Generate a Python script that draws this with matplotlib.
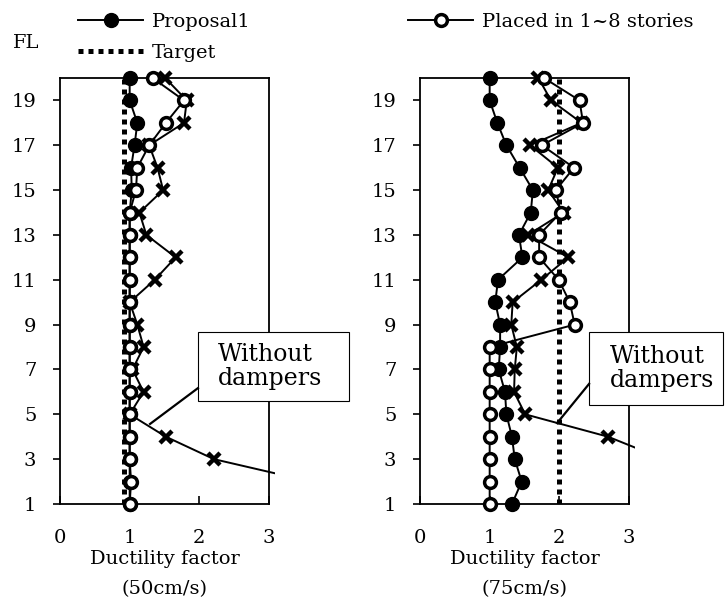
import matplotlib
matplotlib.use("Agg")
import matplotlib.pyplot as plt
from matplotlib.patches import Rectangle
from matplotlib.lines import Line2D
from matplotlib.transforms import Bbox, TransformedBbox

plt.rcParams["font.family"] = "DejaVu Serif"

floors = list(range(1, 21))

# ductility factor per floor (FL1 .. FL20), input 50 cm/s
proposal_50 = [1.0, 1.0, 1.0, 1.0, 1.0, 1.0, 1.0, 1.0, 1.0, 1.0,
               1.0, 1.0, 1.0, 1.0, 1.03, 1.02, 1.07, 1.11, 1.0, 1.0]
placed_50 = [1.0, 1.02, 1.0, 1.0, 1.0, 1.0, 1.0, 1.0, 1.0, 1.0,
             1.0, 1.0, 1.0, 1.0, 1.09, 1.11, 1.28, 1.52, 1.78, 1.33]
no_damper_50 = [4.2, 3.6, 2.21, 1.52, 1.0, 1.2, 1.04, 1.2, 1.11, 1.0,
                1.36, 1.66, 1.24, 1.14, 1.48, 1.40, 1.28, 1.78, 1.82, 1.51]
target_50 = 0.92

# input 75 cm/s
proposal_75 = [1.32, 1.46, 1.36, 1.32, 1.24, 1.22, 1.13, 1.15, 1.15, 1.08,
               1.12, 1.47, 1.42, 1.59, 1.62, 1.43, 1.24, 1.11, 1.0, 1.0]
placed_75 = [1.0, 1.0, 1.0, 1.0, 1.0, 1.0, 1.0, 1.0, 2.22, 2.15,
             1.99, 1.71, 1.71, 2.02, 1.95, 2.21, 1.75, 2.34, 2.29, 1.78]
no_damper_75 = [4.6, 4.0, 3.5, 2.70, 1.51, 1.35, 1.36, 1.39, 1.31, 1.33,
                1.74, 2.13, 1.55, 2.06, 1.84, 1.98, 1.58, 2.32, 1.88, 1.70]
target_75 = 2.0

xlabels = ["Ductility factor\n(50cm/s)", "Ductility factor\n(75cm/s)"]
xticks = [0, 1, 2, 3]
yticks = list(range(1, 20, 2))

W, H = 728, 608
fig = plt.figure(figsize=(W / 100, H / 100), dpi=100)


def add_axes_px(x0, y0, x1, y1):
    return fig.add_axes([x0 / W, 1 - y1 / H, (x1 - x0) / W, (y1 - y0) / H])


def draw_panel(ax, proposal, placed, no_damper, target, xlabel, box, leader, text_xy):
    ax.set_xlim(0, 3)
    ax.set_ylim(1, 20)
    # let markers on FL1/FL20 and the off-scale line run a little past the frame
    clip = TransformedBbox(Bbox.from_extents(-0.1, -0.06, 1.03, 1.06), ax.transAxes)

    tgt = ax.axvline(target, color="k", lw=3.6, ls=(0, (1, 1)),
                     dash_capstyle="butt", zorder=2)
    ln_p, = ax.plot(proposal, floors, "-o", color="k", ms=10, lw=1.4, zorder=3)
    ln_x, = ax.plot(no_damper, floors, "-x", color="k", ms=8.5, mew=3.2, lw=1.4, zorder=4)
    ln_o, = ax.plot(placed, floors, "-o", color="k", mfc="white", ms=8.5,
                    mew=2.5, lw=1.4, zorder=5)
    for ln in (ln_p, ln_x, ln_o):
        ln.set_clip_box(clip)

    ax.set_xticks(xticks)
    ax.set_yticks(yticks)
    ax.tick_params(axis="x", direction="in", length=6, width=1.2, pad=18, labelsize=14)
    ax.tick_params(axis="y", direction="out", length=5, width=1.2, pad=12, labelsize=14)
    for s in ax.spines.values():
        s.set_linewidth(1.3)
    ax.set_xlabel(xlabel, fontsize=14, linespacing=1.85, labelpad=2)

    # "Without dampers" callout
    bx0, by0, bx1, by1 = box
    ax.add_patch(Rectangle((bx0, by0), bx1 - bx0, by1 - by0, transform=ax.transAxes,
                           fc="white", ec="k", lw=0.8, clip_on=False, zorder=10))
    ax.add_line(Line2D([leader[0], leader[2]], [leader[1], leader[3]],
                       transform=ax.transAxes, color="k", lw=1.6,
                       clip_on=False, zorder=10))
    ax.text(text_xy[0], text_xy[1], "Without\ndampers", transform=ax.transAxes,
            ha="left", va="center", fontsize=17, linespacing=1.1, zorder=11)
    return ln_p, tgt, ln_o


ax1 = add_axes_px(60, 78, 269, 504)
ax2 = add_axes_px(420, 78, 629, 504)

h_p, h_t, h_o = draw_panel(ax1, proposal_50, placed_50, no_damper_50, target_50, xlabels[0],
                           box=(0.660, 0.242, 1.383, 0.404),
                           leader=(0.660, 0.272, 0.431, 0.188),
                           text_xy=(0.756, 0.323))
draw_panel(ax2, proposal_75, placed_75, no_damper_75, target_75, xlabels[1],
           box=(0.809, 0.232, 1.450, 0.404),
           leader=(0.809, 0.282, 0.656, 0.190),
           text_xy=(0.909, 0.318))

fig.text(13 / W, 1 - 43 / H, "FL", ha="left", va="center", fontsize=14)

leg_kw = dict(frameon=False, fontsize=14, loc="upper left", borderpad=0,
              handlelength=3.35, handletextpad=0.45, labelspacing=0.68,
              borderaxespad=0)
fig.legend([h_p, h_t], ["Proposal1", "Target"],
           bbox_to_anchor=(78 / W, 1 - 13 / H), **leg_kw)
fig.legend([h_o], ["Placed in 1~8 stories"],
           bbox_to_anchor=(408 / W, 1 - 13 / H), **leg_kw)

fig.savefig("out.png", dpi=100)
